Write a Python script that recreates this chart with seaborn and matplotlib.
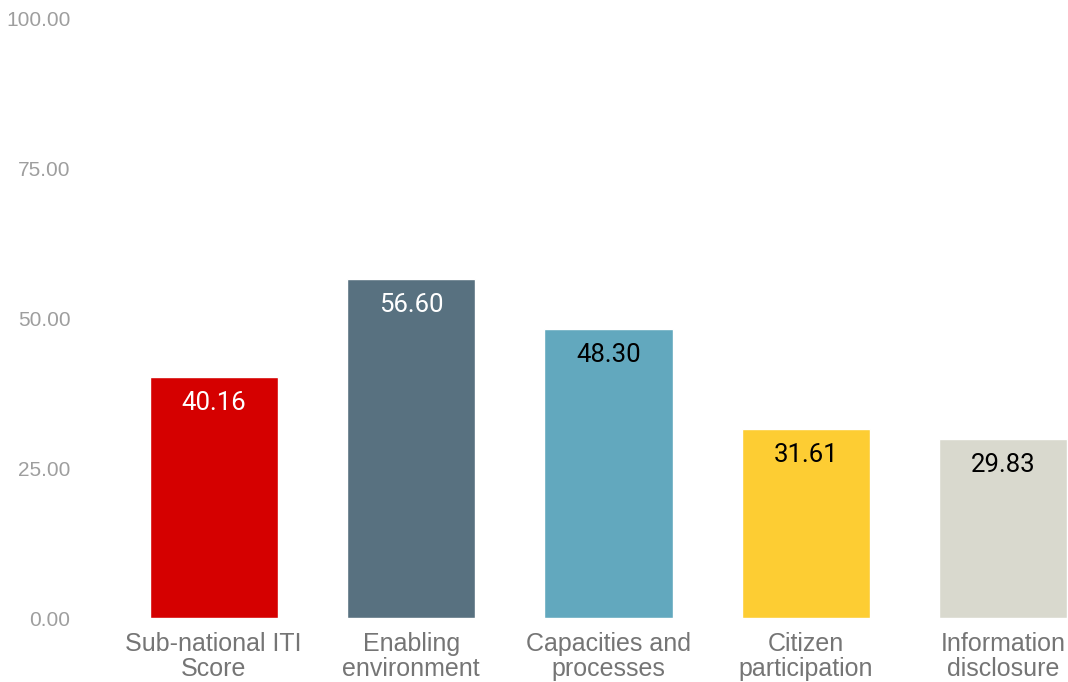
import matplotlib
matplotlib.use("Agg")
import matplotlib.pyplot as plt
import seaborn as sns
import pandas as pd

categories = ["Sub-national ITI\nScore", "Enabling\nenvironment", "Capacities and\nprocesses",
              "Citizen\nparticipation", "Information\ndisclosure"]
values = [40.16, 56.60, 48.30, 31.61, 29.83]
bar_colors = ["#D50000", "#587180", "#62A8BE", "#FDCD33", "#D9D9CE"]
label_colors = ["white", "white", "black", "black", "black"]
yticks = [0, 25, 50, 75, 100]

sns.set_theme(style="white")
plt.rcParams["font.family"] = ["Liberation Sans", "DejaVu Sans"]

df = pd.DataFrame({"category": categories, "value": values})

fig = plt.figure(figsize=(10.68, 6.82), dpi=100)
ax = fig.add_axes([115 / 1068, 1 - 618 / 682, (1068 - 115) / 1068, (618 - 19) / 682])

sns.barplot(data=df, x="category", y="value", hue="category", palette=bar_colors,
            legend=False, width=0.65, saturation=1, ax=ax)

for i, (v, c) in enumerate(zip(values, label_colors)):
    ax.annotate(f"{v:.2f}", xy=(i, v), xytext=(0, -10), textcoords="offset points",
                ha="center", va="top", color=c, fontsize=18.5,
                family=["Roboto", "DejaVu Sans"])

ax.set_ylim(0, 100)
ax.set_xlim(-0.5, 4.328)
ax.set_yticks(yticks)
ax.set_yticklabels([f"{t:.2f}" for t in yticks], color="#9E9E9E", fontsize=15)
ax.tick_params(axis="y", pad=32, length=0)
ax.tick_params(axis="x", pad=10, length=0, labelsize=18, labelcolor="#757575")
for lbl in ax.get_xticklabels():
    lbl.set_linespacing(1.05)
ax.set_xlabel("")
ax.set_ylabel("")
for s in ax.spines.values():
    s.set_visible(False)

fig.savefig("out.png", dpi=100)
